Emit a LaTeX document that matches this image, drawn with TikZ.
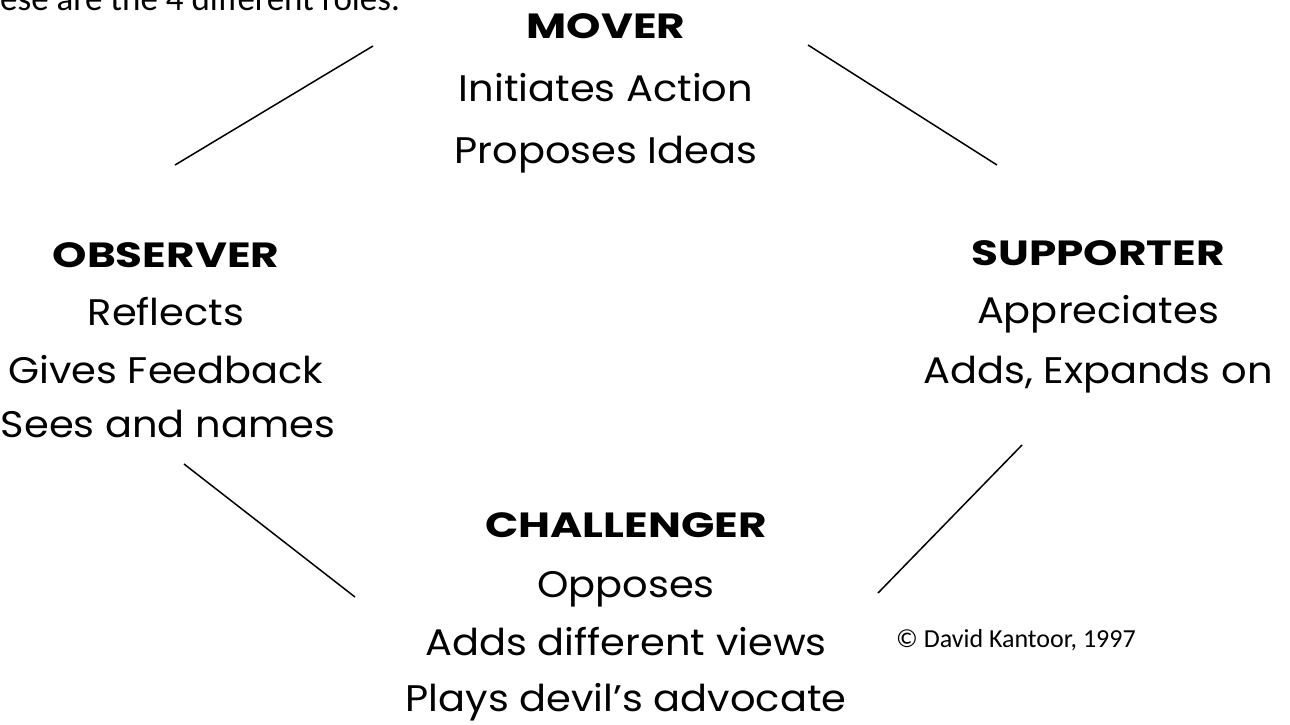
\documentclass[tikz,border=0pt]{standalone}
\usepackage{fontspec}
\newfontfamily\comic{Poppins}[FakeStretch=1.08]
\newfontfamily\comichead{Poppins}[FakeStretch=1.25]
\newfontfamily\calib{Carlito}
\begin{document}
\begin{tikzpicture}[x=1pt,y=-1pt,
  head/.style={anchor=base,inner sep=0pt,font=\comichead\bfseries\fontsize{35}{40}\selectfont},
  body/.style={anchor=base,inner sep=0pt,font=\comic\fontsize{37}{44}\selectfont},
  note/.style={inner sep=0pt,font=\calib\fontsize{26}{30}\selectfont},
  intro/.style={inner sep=0pt,font=\calib\fontsize{35}{40}\selectfont},
  link/.style={line width=1.5pt,black}]
\useasboundingbox (0,0) rectangle (1290,724);
% intro line (cut off at the top edge)
\node[intro,anchor=base west] (intro) at (0,10) {ese are the 4 different roles.};
% MOVER
\node[head] (mover) at (606,38) {MOVER};
\node[body] (mover1) at (606,101) {Initiates Action};
\node[body] (mover2) at (606,163) {Proposes Ideas};
% OBSERVER
\node[head] (obs) at (166,267) {OBSERVER};
\node[body] (obs1) at (166,325) {Reflects};
\node[body] (obs2) at (166,383) {Gives Feedback};
\node[body] (obs3) at (168,437) {Sees and names};
% SUPPORTER
\node[head] (sup) at (1098,265) {SUPPORTER};
\node[body] (sup1) at (1098,323) {Appreciates};
\node[body] (sup2) at (1098,383) {Adds, Expands on};
% CHALLENGER
\node[head] (cha) at (626,537) {CHALLENGER};
\node[body] (cha1) at (626,597) {Opposes};
\node[body] (cha2) at (626,655) {Adds different views};
\node[body] (cha3) at (626,711) {Plays devil’s advocate};
% copyright
\node[note,anchor=base west] (copy) at (896,647) {© David Kantoor, 1997};
% connectors
\coordinate (a1) at (373,46);  \coordinate (a2) at (175,165);
\coordinate (b1) at (808,45);  \coordinate (b2) at (997,165);
\coordinate (c1) at (1022,445); \coordinate (c2) at (878,593);
\coordinate (d1) at (184,464); \coordinate (d2) at (355,597);
\draw[link] (a1) -- (a2);
\draw[link] (b1) -- (b2);
\draw[link] (c1) -- (c2);
\draw[link] (d1) -- (d2);
\end{tikzpicture}
\end{document}
